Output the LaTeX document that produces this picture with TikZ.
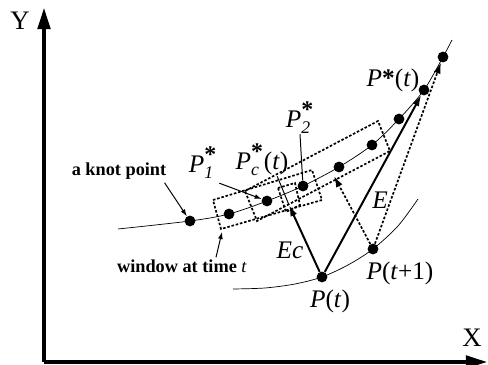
\documentclass[tikz,border=0pt]{standalone}
\usepackage{fontspec}
\setmainfont{Liberation Serif}
\usepackage{amsmath}
\usetikzlibrary{arrows.meta}
\newcommand{\bigstar}{\text{\fontsize{17}{17}\selectfont\textbf{*}}}
\tikzset{
  knot/.style       = {circle, fill=black, inner sep=0pt, minimum size=0.27cm},
  curve/.style      = {line width=0.5pt},
  axis/.style       = {line width=2.2pt, -{Triangle[length=15pt,width=9pt]}},
  solidarrow/.style = {line width=1.4pt, -{Latex[length=8pt,width=5pt]}},
  dasharrow/.style  = {line width=1.2pt, dash pattern=on 1.8pt off 1.3pt,
                       -{Latex[length=8pt,width=5pt]}},
  window/.style     = {line width=1.2pt, dash pattern=on 1.8pt off 1.3pt},
  pointer/.style    = {line width=0.7pt},
  lbl/.style        = {font=\fontsize{18}{20}\selectfont, inner sep=0pt},
  axlbl/.style      = {font=\fontsize{19}{21}\selectfont, inner sep=0pt},
  note/.style       = {font=\fontsize{13}{15}\selectfont\bfseries, inner sep=0pt},
}

\begin{document}
\begin{tikzpicture}[x=0.025cm, y=-0.025cm]
\useasboundingbox (0,0) rectangle (488,365);

% axes
\coordinate (o) at (44,362);
\coordinate (ytip) at (44,8);
\coordinate (xtip) at (487,362);
\draw[axis] (o) -- (ytip);
\draw[axis] (o) -- (xtip);
\node[axlbl] (ylab) at (20,21) {Y};
\node[axlbl] (xlab) at (472,338) {X};

% knot curve and trajectory
\draw[curve] plot[smooth] coordinates {(118,229) (190,221) (229,214) (267,201)
  (303,186) (339,167) (372,145) (399,119) (424,90) (443,57) (452,40)};
\draw[curve] plot[smooth] coordinates {(233,289) (265,288) (295,284) (322,277)
  (348,265) (373,249) (398,226) (418,199)};

% windows
\draw[window] (213,200) -- (312,170) -- (322,200) -- (221,229) -- cycle;
\draw[window] (245,191) -- (378,121) -- (390,151) -- (257,221) -- cycle;
\draw[window] (278,188) -- (295,183) -- (300,205) -- (286,212) -- cycle;

% knots
\node[knot] (k1) at (190,221) {};
\node[knot] (k2) at (229,214) {};
\node[knot] (k3) at (267,201) {};
\node[knot] (k4) at (303,186) {};
\node[knot] (k5) at (339,167) {};
\node[knot] (k6) at (372,145) {};
\node[knot] (k7) at (399,119) {};
\node[knot] (k8) at (424,90) {};
\node[knot] (k9) at (443,57) {};

\node[knot] (pt) at (322,277) {};
\node[knot] (pt1) at (373,249) {};
\coordinate (pc) at (289,205);
\coordinate (wc) at (334,176);
\coordinate (wcorner) at (222,232);

\draw[solidarrow] (pt) -- (k8);
\draw[solidarrow] (pt) -- (pc);
\draw[dasharrow] (pt1) -- (k9);
\draw[dasharrow] (pt1) -- (wc);

% labels
\node[lbl] (lpt) at (330,301) {\textit{P}(\textit{t})};
\node[lbl] (lpt1) at (400,273) {\textit{P}(\textit{t}+1)};
\node[lbl] (lps) at (393,80) {\textit{P}\textbf{*}(\textit{t})};
\node[lbl] (le) at (380,200) {\textit{E}};
\node[lbl] (lec) at (290,250) {\textit{Ec}};
\node[lbl] (lp1) at (203,163) {$\textit{P}^{\bigstar}_{\textit{1}}$};
\node[lbl] (lpc) at (262,160) {$\textit{P}^{\bigstar}_{\textit{c}}$(\textit{t})};
\node[lbl] (lp2) at (300,118) {$\textit{P}^{\bigstar}_{\textit{2}}$};
\node[note] (knotlbl) at (119,171) {a knot point};
\node[note] (winlbl) at (182,266) {window at time \textnormal{\itshape t}};

\draw[pointer, -{Latex[length=5pt,width=3.5pt]}] ([shift={(-0.05cm,-0.08cm)}]knotlbl.south east) -- (k1);
\draw[pointer, -{Latex[length=5pt,width=3.5pt]}] ([xshift=0.85cm,yshift=0.05cm]winlbl.north) -- (wcorner);
\draw[pointer, -{Latex[length=5pt,width=3.5pt]}] ([shift={(0.05cm,-0.1cm)}]lp1.south east) -- (k3);
\draw[pointer] ([xshift=0.38cm]lpc.south) -- (pc);
\draw[pointer] (lp2.south) -- (k4);

\end{tikzpicture}
\end{document}
